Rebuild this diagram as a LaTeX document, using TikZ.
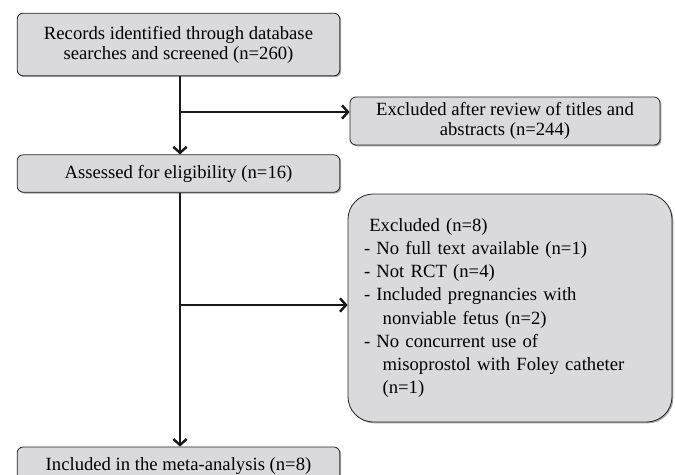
\documentclass[tikz,border=0pt]{standalone}
\usepackage{fontspec}
\setmainfont{Liberation Serif}
\usetikzlibrary{arrows.meta,shadows}
\definecolor{boxgray}{RGB}{218,218,220}
\begin{document}
\begin{tikzpicture}[x=0.75pt,y=-0.75pt,
  box/.style={draw=black!85, line width=0.6pt, fill=boxgray, rounded corners=4.5pt,
    drop shadow={shadow xshift=1pt, shadow yshift=-1pt, fill=black!45, opacity=0.8},
    align=center, font=\fontsize{14}{15}\selectfont, inner sep=0pt},
  flow/.style={line width=1.8pt, draw=black!90},
  arr/.style={flow, -{Straight Barb[length=4.5pt,width=10pt]}}]
\clip (0,0) rectangle (675,475);
\fill[white] (0,0) rectangle (675,475);
\node[box, minimum width=242pt, minimum height=47pt] (rec) at (178.5,44.5)
  {Records identified through database\\searches and screened (n=260)};
\node[box, minimum width=232.5pt, minimum height=36pt] (exa) at (505,121)
  {Excluded after review of titles and\\abstracts (n=244)};
\node[box, minimum width=242pt, minimum height=28pt] (ass) at (178.5,173.5)
  {Assessed for eligibility (n=16)};
\node[box, minimum width=243pt, minimum height=171pt, rounded corners=19pt,
  align=left, text width=219pt, font=\fontsize{14}{17.4}\selectfont] (exb) at (510,308)
  {\hspace*{4pt}Excluded (n=8)\\
   - No full text available (n=1)\\
   - Not RCT (n=4)\\
   - Included pregnancies with\\
   \hspace*{14pt}nonviable fetus (n=2)\\
   - No concurrent use of\\
   \hspace*{14pt}misoprostol with Foley catheter\\
   \hspace*{14pt}(n=1)};
\node[box, minimum width=242pt, minimum height=28.5pt] (inc) at (178.5,466)
  {Included in the meta-analysis (n=8)};
\coordinate (top) at (180,76);
\coordinate (b1) at (180,112);
\coordinate (b2) at (180,305);
\draw[arr] (rec.south -| top) -- (ass.north -| top);
\draw[arr] (b1) -- (b1 -| exa.west);
\draw[arr] (ass.south -| top) -- (inc.north -| top);
\draw[arr] (b2) -- (b2 -| exb.west);
\end{tikzpicture}
\end{document}
